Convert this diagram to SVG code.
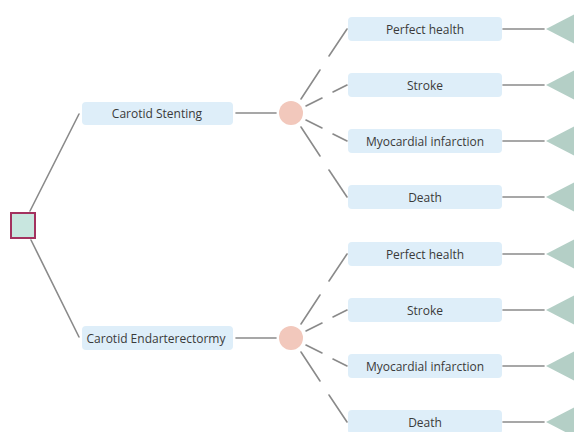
<svg xmlns="http://www.w3.org/2000/svg" width="574" height="432" viewBox="0 0 574 432">
<defs>
<style>
.box{fill:#deeef9;}
.lbl{font-family:"Open Sans","Noto Sans",sans-serif;font-size:12px;fill:#3a3a3a;text-anchor:middle;dominant-baseline:central;}
.ln{stroke:#8a8a8a;stroke-width:1.6;fill:none;stroke-linecap:round;}
.chance{fill:#f2c8bc;}
.term{fill:#b4cfc6;}
.dec{fill:#c8e6df;stroke:#a3325f;stroke-width:2;}
</style>
</defs>
<rect width="574" height="432" fill="#ffffff"/>
<g id="connectors">
<line class="ln" x1="30" y1="211" x2="79" y2="114"/>
<line class="ln" x1="31" y1="240" x2="79" y2="337"/>
<line class="ln" x1="236" y1="113" x2="276" y2="113"/>
<line class="ln" x1="236" y1="338" x2="276" y2="338"/>
<line class="ln" x1="301" y1="99" x2="320" y2="70"/><line class="ln" x1="329" y1="56" x2="347" y2="29"/>
<line class="ln" x1="306" y1="106" x2="322" y2="98"/><line class="ln" x1="333" y1="92" x2="347" y2="85"/>
<line class="ln" x1="306" y1="120" x2="322" y2="128"/><line class="ln" x1="333" y1="134" x2="347" y2="141"/>
<line class="ln" x1="301" y1="127" x2="320" y2="156"/><line class="ln" x1="329" y1="170" x2="347" y2="197"/>
<line class="ln" x1="301" y1="324" x2="320" y2="295"/><line class="ln" x1="329" y1="281" x2="347" y2="254"/>
<line class="ln" x1="306" y1="331" x2="322" y2="323"/><line class="ln" x1="333" y1="317" x2="347" y2="310"/>
<line class="ln" x1="306" y1="345" x2="322" y2="353"/><line class="ln" x1="333" y1="359" x2="347" y2="366"/>
<line class="ln" x1="301" y1="352" x2="320" y2="381"/><line class="ln" x1="329" y1="395" x2="347" y2="422"/>
<line class="ln" x1="503" y1="29" x2="544" y2="29"/>
<line class="ln" x1="503" y1="85" x2="544" y2="85"/>
<line class="ln" x1="503" y1="141" x2="544" y2="141"/>
<line class="ln" x1="503" y1="197" x2="544" y2="197"/>
<line class="ln" x1="503" y1="254" x2="544" y2="254"/>
<line class="ln" x1="503" y1="310" x2="544" y2="310"/>
<line class="ln" x1="503" y1="366" x2="544" y2="366"/>
<line class="ln" x1="503" y1="422" x2="544" y2="422"/>
</g>
<g id="decision"><rect class="dec" x="11" y="213" width="24" height="25"/></g>
<g id="carotid-stenting"><rect class="box" x="82" y="102" width="151" height="23" rx="4"/><text class="lbl" x="157" y="113.5">Carotid Stenting</text></g>
<g id="carotid-endarterectomy"><rect class="box" x="82" y="326" width="151" height="24" rx="4"/><text class="lbl" x="156" y="338">Carotid Endarterectormy</text></g>
<g id="chance-1"><circle class="chance" cx="291" cy="113" r="12"/></g>
<g id="chance-2"><circle class="chance" cx="291" cy="338" r="12"/></g>
<g id="o1"><rect class="box" x="348" y="17" width="154" height="24" rx="4"/><text class="lbl" x="425" y="29">Perfect health</text></g>
<g id="o2"><rect class="box" x="348" y="73" width="154" height="24" rx="4"/><text class="lbl" x="425" y="85">Stroke</text></g>
<g id="o3"><rect class="box" x="348" y="129" width="154" height="24" rx="4"/><text class="lbl" x="425" y="141">Myocardial infarction</text></g>
<g id="o4"><rect class="box" x="348" y="185" width="154" height="24" rx="4"/><text class="lbl" x="425" y="197">Death</text></g>
<g id="o5"><rect class="box" x="348" y="242" width="154" height="24" rx="4"/><text class="lbl" x="425" y="254">Perfect health</text></g>
<g id="o6"><rect class="box" x="348" y="298" width="154" height="24" rx="4"/><text class="lbl" x="425" y="310">Stroke</text></g>
<g id="o7"><rect class="box" x="348" y="354" width="154" height="24" rx="4"/><text class="lbl" x="425" y="366">Myocardial infarction</text></g>
<g id="o8"><rect class="box" x="348" y="410" width="154" height="24" rx="4"/><text class="lbl" x="425" y="422">Death</text></g>
<g id="t1"><polygon class="term" points="546,29 575,14 575,44"/></g>
<g id="t2"><polygon class="term" points="546,85 575,70 575,100"/></g>
<g id="t3"><polygon class="term" points="546,141 575,126 575,156"/></g>
<g id="t4"><polygon class="term" points="546,197 575,182 575,212"/></g>
<g id="t5"><polygon class="term" points="546,254 575,239 575,269"/></g>
<g id="t6"><polygon class="term" points="546,310 575,295 575,325"/></g>
<g id="t7"><polygon class="term" points="546,366 575,351 575,381"/></g>
<g id="t8"><polygon class="term" points="546,422 575,407 575,437"/></g>
</svg>
